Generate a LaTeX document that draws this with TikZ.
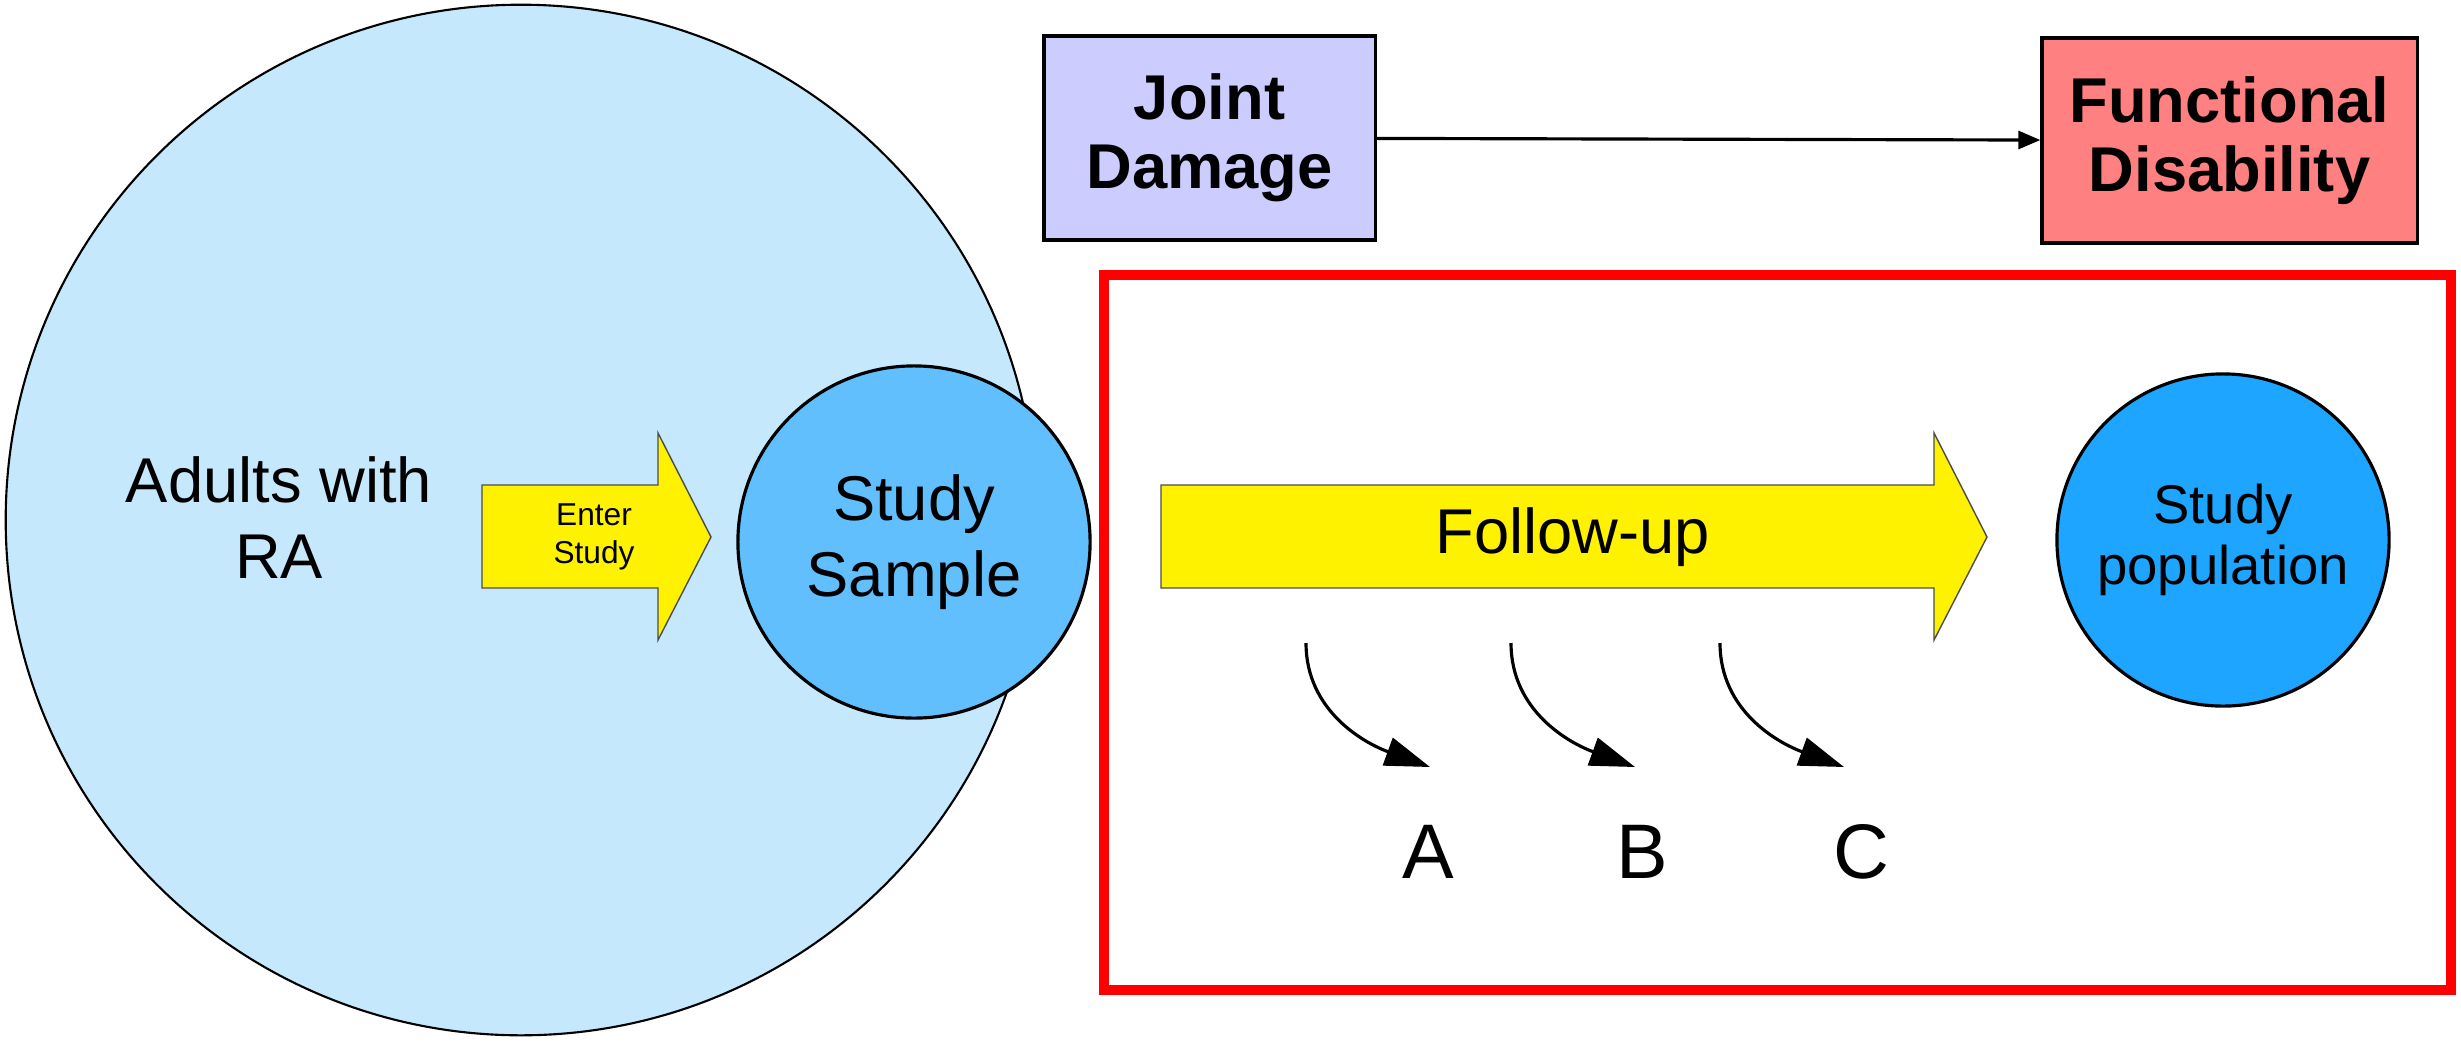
\documentclass[tikz,border=0pt]{standalone}
\usepackage{fontspec}
\setmainfont{Liberation Sans}
\usetikzlibrary{arrows.meta}
\definecolor{raBlue}{RGB}{198,232,252}
\definecolor{sampleBlue}{RGB}{98,191,253}
\definecolor{popBlue}{RGB}{30,165,255}
\definecolor{jointLav}{RGB}{204,204,255}
\definecolor{disabRed}{RGB}{255,128,128}
\begin{document}
\begin{tikzpicture}[x=0.01cm,y=-0.01cm,>={Triangle[length=0.22cm,width=0.18cm]},
  bigtext/.style={font=\fontsize{18}{21.6}\selectfont,align=center},
  boxlabel/.style={draw,line width=0.9pt,font=\bfseries\fontsize{18}{19.6}\selectfont,align=center,inner sep=0pt},
  blockarrow/.style={fill=yellow,draw=black!70,line width=0.4pt},
  dropline/.style={line width=0.9pt,-{Triangle[length=0.45cm,width=0.29cm]}}]
  \useasboundingbox (0,0) rectangle (2461,1045);
  % all adults with RA, and the sample that enters the study
  \node[circle,draw,line width=0.6pt,fill=raBlue,minimum size=10.3cm,inner sep=0pt] (ra) at (521,520) {};
  \node[bigtext] (ratext) at (279,518) {Adults with\\RA};
  \draw[blockarrow] (482,485) -- (658,485) -- (658,433) -- (711,537) -- (658,640) -- (658,588) -- (482,588) -- cycle;
  \node[font=\fontsize{9}{11}\selectfont,align=center] (enter) at (594,537) {Enter\\Study};
  \node[circle,draw,line width=0.9pt,fill=sampleBlue,minimum size=3.52cm,inner sep=0pt,bigtext] (sample) at (914,542) {Study\\Sample};
  % exposure and outcome
  \node[boxlabel,fill=jointLav,minimum width=3.31cm,minimum height=2.04cm] (jd) at (1209.5,138) {Joint\\Damage};
  \node[boxlabel,fill=disabRed,minimum width=3.75cm,minimum height=2.05cm] (fd) at (2229.5,140.5) {Functional\\Disability};
  \draw[->,line width=0.9pt] (jd) -- (fd);
  % the follow-up window
  \draw[red,line width=2.8pt] (1104,275) rectangle (2451,990);
  \draw[blockarrow] (1161,485) -- (1934,485) -- (1934,433) -- (1987,537) -- (1934,640) -- (1934,588) -- (1161,588) -- cycle;
  \node[bigtext] (follow) at (1573,537) {Follow-up};
  \node[circle,draw,line width=0.9pt,fill=popBlue,minimum size=3.32cm,inner sep=0pt,font=\fontsize{15.5}{17.5}\selectfont,align=center] (pop) at (2223,540) {Study\\population};
  % outcomes met during follow-up
  \foreach \lab/\sx/\lx in {A/1306/1428,B/1511/1642,C/1720/1861} {
    \coordinate (from\lab) at (\sx,643);
    \coordinate (to\lab) at (\sx+124,767);
    \draw[dropline] (from\lab) to[out=-90,in=160] (to\lab);
    \node[font=\fontsize{22}{24}\selectfont] (lab\lab) at (\lx,852) {\lab};
  }
\end{tikzpicture}
\end{document}
